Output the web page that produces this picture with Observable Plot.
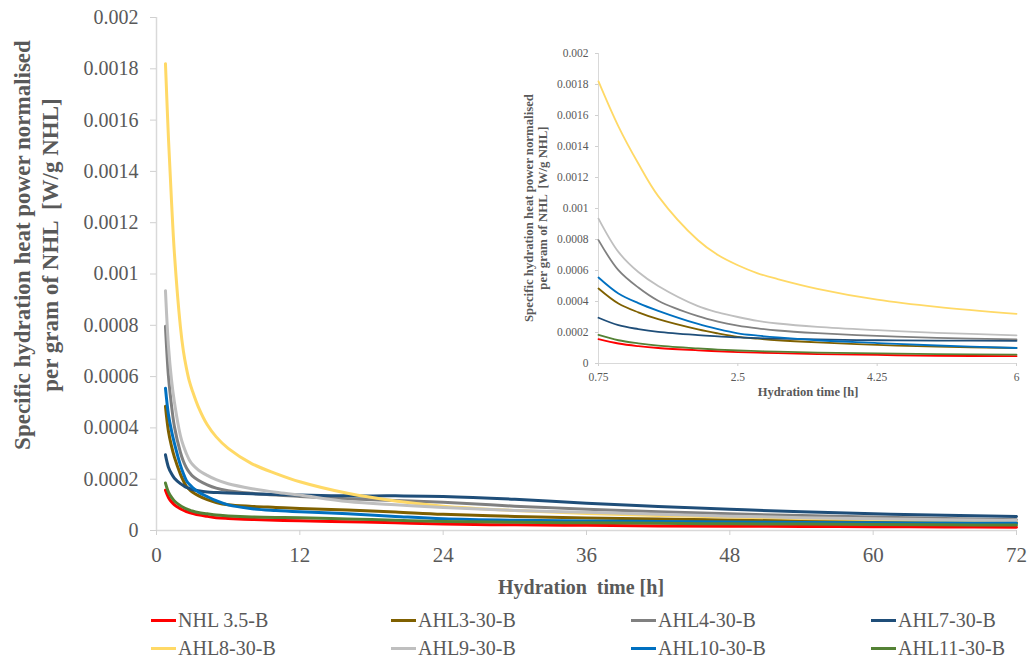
<!DOCTYPE html>
<html>
<head>
<meta charset="utf-8">
<script src="https://cdn.jsdelivr.net/npm/d3@7"></script>
<script src="https://cdn.jsdelivr.net/npm/@observablehq/plot@0.6"></script>
<style>
  body { margin: 0; background: #fff; }
  #wrap { position: relative; width: 1029px; height: 658px; overflow: hidden;
          font-family: "Liberation Serif", "Times New Roman", serif; color: #595959; }
  #main, #inset { position: absolute; }
  #main { left: 0; top: 0; }
  #inset { left: 500px; top: 30px; }
  .ttl { position: absolute; text-align: center; font-weight: bold; white-space: pre; color: #595959; }
  .rot { transform: rotate(-90deg); }
  #legend { position: absolute; left: 151px; top: 606px; display: grid;
            grid-template-columns: 240px 240px 240px 240px; grid-auto-rows: 28px; }
  .item { display: flex; align-items: center; font-size: 20px; color: #595959; white-space: pre; }
  .sw { width: 25px; height: 3px; margin-right: 2px; }
</style>
</head>
<body>
<div id="wrap">
  <div id="main"></div>
  <div id="inset"></div>
  <div id="legend"></div>
</div>
<script>
// ---- data ----
const hours = [0.75, 1, 1.25, 1.5, 2, 2.25, 2.5, 2.75, 3, 3.5, 4.25, 5, 6, 8, 10, 12, 16, 20, 24, 30, 36, 42, 48, 54, 60, 66, 72];

const nhl35 = [0.000157, 0.000129, 0.000112, 0.0001, 0.000085, 0.000079, 0.000074, 0.00007, 0.000067, 0.000061, 0.000055, 0.00005, 0.000047, 0.000043, 0.00004, 0.000038, 0.000034, 0.00003, 0.000025, 0.000022, 0.00002, 0.000018, 0.000017, 0.000016, 0.000015, 0.000014, 0.000013];
const ahl3  = [0.000484, 0.000387, 0.00033, 0.000286, 0.00022, 0.000194, 0.000172, 0.00016, 0.00015, 0.000136, 0.00012, 0.000109, 0.0001, 0.000094, 0.00009, 0.000086, 0.00008, 0.000072, 0.000063, 0.000055, 0.000049, 0.000045, 0.000041, 0.000038, 0.000035, 0.000033, 0.000031];
const ahl4  = [0.000796, 0.000602, 0.00049, 0.000405, 0.000305, 0.00027, 0.000245, 0.000227, 0.000213, 0.000196, 0.000178, 0.000165, 0.000155, 0.000145, 0.000138, 0.000133, 0.000124, 0.000117, 0.00011, 0.000095, 0.000083, 0.000073, 0.000065, 0.000058, 0.000053, 0.000047, 0.000042];
const ahl7  = [0.000295, 0.000247, 0.000222, 0.000204, 0.000183, 0.000175, 0.000168, 0.000164, 0.00016, 0.000155, 0.00015, 0.000148, 0.000146, 0.000143, 0.00014, 0.000138, 0.000135, 0.000135, 0.000133, 0.000122, 0.000106, 0.000094, 0.000083, 0.000073, 0.000065, 0.000059, 0.000055];
const ahl8  = [0.00182, 0.00153, 0.00129, 0.00108, 0.000795, 0.0007, 0.000634, 0.000582, 0.000545, 0.000482, 0.000412, 0.000365, 0.00032, 0.00026, 0.000222, 0.00019, 0.000145, 0.000115, 0.000095, 0.000078, 0.000066, 0.000058, 0.000053, 0.000047, 0.000043, 0.000039, 0.000036];
const ahl9  = [0.000935, 0.00072, 0.00059, 0.0005, 0.00037, 0.00033, 0.0003, 0.000275, 0.000258, 0.000236, 0.000215, 0.000198, 0.000182, 0.000163, 0.000149, 0.000138, 0.000113, 0.0001, 0.00009, 0.000078, 0.000071, 0.000063, 0.000056, 0.00005, 0.000046, 0.000042, 0.000039];
const ahl10 = [0.000555, 0.000452, 0.00039, 0.00034, 0.000255, 0.000222, 0.000195, 0.00018, 0.000168, 0.00015, 0.000132, 0.000116, 0.0001, 0.000085, 0.000078, 0.000073, 0.000065, 0.000055, 0.000046, 0.00004, 0.000037, 0.000035, 0.000033, 0.000031, 0.00003, 0.000029, 0.000028];
const ahl11 = [0.000185, 0.00015, 0.00013, 0.000115, 0.000097, 0.00009, 0.000084, 0.00008, 0.000076, 0.00007, 0.000065, 0.00006, 0.000057, 0.000053, 0.000051, 0.00005, 0.000045, 0.00004, 0.000035, 0.000032, 0.00003, 0.000028, 0.000026, 0.000025, 0.000023, 0.000022, 0.000021];

const seriesNames  = ["NHL 3.5-B", "AHL3-30-B", "AHL4-30-B", "AHL7-30-B", "AHL8-30-B", "AHL9-30-B", "AHL10-30-B", "AHL11-30-B"];
const seriesValues = [nhl35, ahl3, ahl4, ahl7, ahl8, ahl9, ahl10, ahl11];
const seriesColors = ["#ff0000", "#7f6000", "#808080", "#1f4e79", "#ffd966", "#bfbfbf", "#0070c0", "#548235"];

const mainXTicks  = [0, 12, 24, 36, 48, 60, 72];
const insetXTicks = [0.75, 2.5, 4.25, 6];
const yTicks = [0, 0.0002, 0.0004, 0.0006, 0.0008, 0.001, 0.0012, 0.0014, 0.0016, 0.0018, 0.002];

const yTitle = ["Specific hydration heat power normalised", "per gram of NHL  [W/g NHL]"];
const xTitleMain = "Hydration  time [h]";
const xTitleInset = "Hydration time [h]";

// ---- build table ----
const rows = [];
seriesNames.forEach((name, i) => {
  seriesValues[i].forEach((v, j) => rows.push({ series: name, hour: hours[j], value: v }));
});
const fmt = d => d === 0 ? "0" : String(+d.toFixed(4));
const font = "Liberation Serif, Times New Roman, serif";
const color = { domain: seriesNames, range: seriesColors };

const main = Plot.plot({
  width: 1029, height: 570,
  marginTop: 17, marginLeft: 156, marginRight: 13, marginBottom: 40,
  style: { fontFamily: font, background: "transparent", color: "#595959", overflow: "visible" },
  x: { domain: [0, 72] },
  y: { domain: [0, 0.002] },
  color,
  marks: [
    Plot.ruleY([0], { stroke: "#d9d9d9", strokeWidth: 1.5 }),
    Plot.ruleX([0], { stroke: "#d9d9d9", strokeWidth: 1.5 }),
    Plot.axisY({ ticks: yTicks, tickSize: 6, tickPadding: 12, stroke: "#d0d0d0", fill: "#595959",
                 fontSize: 20, tickFormat: fmt, label: null }),
    Plot.axisX({ ticks: mainXTicks, tickSize: 5, tickPadding: 12, stroke: "#d0d0d0", fill: "#595959",
                 fontSize: 21, tickFormat: d => String(d), label: null }),
    Plot.line(rows, { x: "hour", y: "value", z: "series", stroke: "series", strokeWidth: 3,
                      curve: "catmull-rom" })
  ]
});
document.getElementById("main").appendChild(main);

const insetRows = rows.filter(r => r.hour <= 6);
const inset = Plot.plot({
  width: 529, height: 380,
  marginTop: 23, marginLeft: 98, marginRight: 13, marginBottom: 47,
  style: { fontFamily: font, background: "transparent", color: "#595959", overflow: "visible" },
  x: { domain: [0.75, 6] },
  y: { domain: [0, 0.002] },
  color,
  marks: [
    Plot.ruleY([0], { stroke: "#d9d9d9", strokeWidth: 1 }),
    Plot.ruleX([0.75], { stroke: "#d9d9d9", strokeWidth: 1 }),
    Plot.axisY({ ticks: yTicks, tickSize: 3, tickPadding: 7, stroke: "#d0d0d0", fill: "#595959",
                 fontSize: 11.5, tickFormat: fmt, label: null }),
    Plot.axisX({ ticks: insetXTicks, tickSize: 3, tickPadding: 6, stroke: "#d0d0d0", fill: "#595959",
                 fontSize: 11.5, tickFormat: d => String(d), label: null }),
    Plot.line(insetRows, { x: "hour", y: "value", z: "series", stroke: "series", strokeWidth: 1.8,
                           curve: "catmull-rom" })
  ]
});
document.getElementById("inset").appendChild(inset);

// ---- titles ----
const wrap = document.getElementById("wrap");
function addTitle(text, cx, cy, w, size, lh, rotate) {
  const d = document.createElement("div");
  d.className = "ttl" + (rotate ? " rot" : "");
  d.style.width = w + "px";
  d.style.fontSize = size + "px";
  d.style.lineHeight = lh + "px";
  const lines = Array.isArray(text) ? text : [text];
  d.textContent = lines.join("\n");
  const h = lh * lines.length;
  d.style.left = (cx - w / 2) + "px";
  d.style.top = (cy - h / 2) + "px";
  d.style.height = h + "px";
  wrap.appendChild(d);
}
addTitle(yTitle, 37, 245, 470, 23, 28, true);
addTitle(xTitleMain, 581, 587, 300, 20, 24, false);
addTitle(yTitle, 536, 208, 260, 12.8, 14, true);
addTitle(xTitleInset, 808, 392, 200, 12.5, 14, false);

// ---- legend ----
const legend = document.getElementById("legend");
seriesNames.forEach((name, i) => {
  const it = document.createElement("div");
  it.className = "item";
  const sw = document.createElement("span");
  sw.className = "sw";
  sw.style.background = seriesColors[i];
  const tx = document.createElement("span");
  tx.textContent = name;
  it.appendChild(sw);
  it.appendChild(tx);
  legend.appendChild(it);
});
</script>
</body>
</html>
